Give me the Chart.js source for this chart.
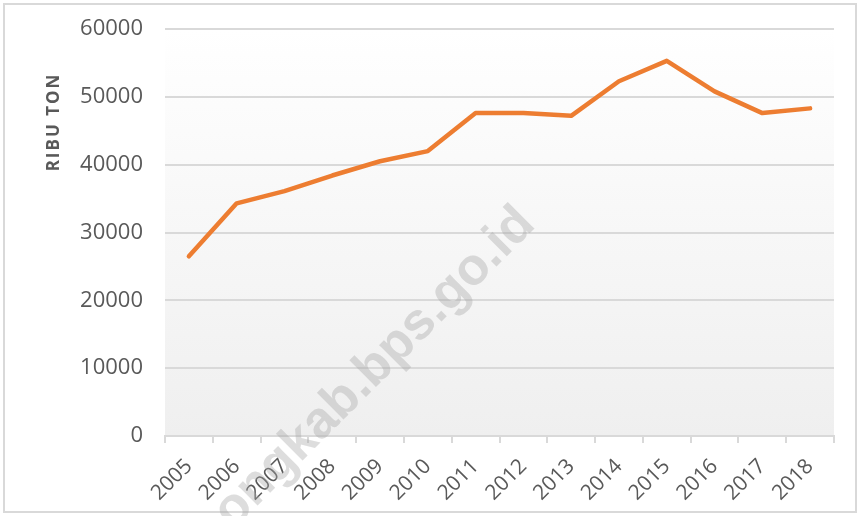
<!DOCTYPE html>
<html>
<head>
<meta charset="utf-8">
<script src="https://cdn.jsdelivr.net/npm/chart.js@4.4.0/dist/chart.umd.min.js"></script>
<style>
  html, body { margin: 0; padding: 0; background: #fff; }
  #wrap { width: 860px; height: 516px; position: relative; }
</style>
</head>
<body>
<div id="wrap"><canvas id="produksi"></canvas></div>
<script>
// data
let years = ['2005', '2006', '2007', '2008', '2009', '2010', '2011', '2012', '2013', '2014', '2015', '2016', '2017', '2018'];
let produksi = [26500, 34300, 36100, 38400, 40500, 42000, 47600, 47600, 47200, 52300, 55300, 50800, 47600, 48300];
let yTicks = [0, 10000, 20000, 30000, 40000, 50000, 60000];
let yTitle = 'RIBU TON';
let watermark = 'lebongkab.bps.go.id';

// latar, bingkai, judul sumbu dan watermark
let decor = {
  id: 'decor',
  beforeDraw(chart) {
    let ctx = chart.ctx;
    let a = chart.chartArea;
    ctx.save();
    ctx.fillStyle = '#ffffff';
    ctx.fillRect(0, 0, chart.width, chart.height);
    let grad = ctx.createLinearGradient(0, a.top, 0, a.bottom);
    grad.addColorStop(0, '#ffffff');
    grad.addColorStop(1, '#efefef');
    ctx.fillStyle = grad;
    ctx.fillRect(a.left, a.top, a.right - a.left, a.bottom - a.top);
    ctx.strokeStyle = '#d9d9d9';
    ctx.lineWidth = 2;
    ctx.strokeRect(4, 4, chart.width - 8, chart.height - 8);
    ctx.restore();
  },
  afterDraw(chart) {
    let ctx = chart.ctx;
    ctx.save();
    ctx.translate(54, 122);
    ctx.rotate(-Math.PI / 2);
    ctx.font = 'bold 17px "Open Sans"';
    ctx.letterSpacing = '2px';
    ctx.fillStyle = '#595959';
    ctx.textAlign = 'center';
    ctx.textBaseline = 'middle';
    ctx.fillText(yTitle, 0, 0);
    ctx.restore();

    ctx.save();
    ctx.translate(537, 226);
    ctx.rotate(-Math.PI / 4);
    ctx.font = 'bold 52px "Liberation Sans"';
    ctx.fillStyle = 'rgba(165,165,165,0.38)';
    ctx.textAlign = 'right';
    ctx.textBaseline = 'alphabetic';
    ctx.fillText(watermark, 0, 0);
    ctx.restore();
  }
};

let chart = new Chart(document.getElementById('produksi').getContext('2d'), {
  type: 'line',
  data: {
    labels: years,
    datasets: [{
      label: yTitle,
      data: produksi,
      borderColor: '#ed7d31',
      backgroundColor: '#ed7d31',
      borderWidth: 4.5,
      pointRadius: 0,
      tension: 0,
      borderCapStyle: 'round',
      borderJoinStyle: 'round'
    }]
  },
  options: {
    responsive: true,
    maintainAspectRatio: false,
    animation: false,
    layout: { padding: { top: 29, right: 26, left: 0, bottom: 0 } },
    plugins: { legend: { display: false }, tooltip: { enabled: false } },
    scales: {
      x: {
        offset: true,
        grid: { offset: true, drawOnChartArea: false, drawTicks: true, tickLength: 7, color: '#d9d9d9', lineWidth: 2 },
        border: { color: '#d9d9d9', width: 2 },
        ticks: { color: '#595959', font: { family: 'Open Sans', size: 21 }, minRotation: 45, maxRotation: 45, padding: 11 },
        afterFit(scale) { scale.height = 80; }
      },
      y: {
        min: 0,
        max: 60000,
        afterBuildTicks(scale) { scale.ticks = yTicks.map(v => ({ value: v })); },
        grid: { color: '#d9d9d9', lineWidth: 2, drawTicks: false },
        border: { display: false },
        ticks: {
          color: '#595959',
          font: { family: 'Open Sans', size: 22 },
          padding: 22,
          callback: function(value) { return String(value); }
        },
        afterFit(scale) {
          scale.width = 165;
          scale.paddingTop = 0;
          scale.paddingBottom = 0;
        }
      }
    }
  },
  plugins: [decor]
});
</script>
</body>
</html>
